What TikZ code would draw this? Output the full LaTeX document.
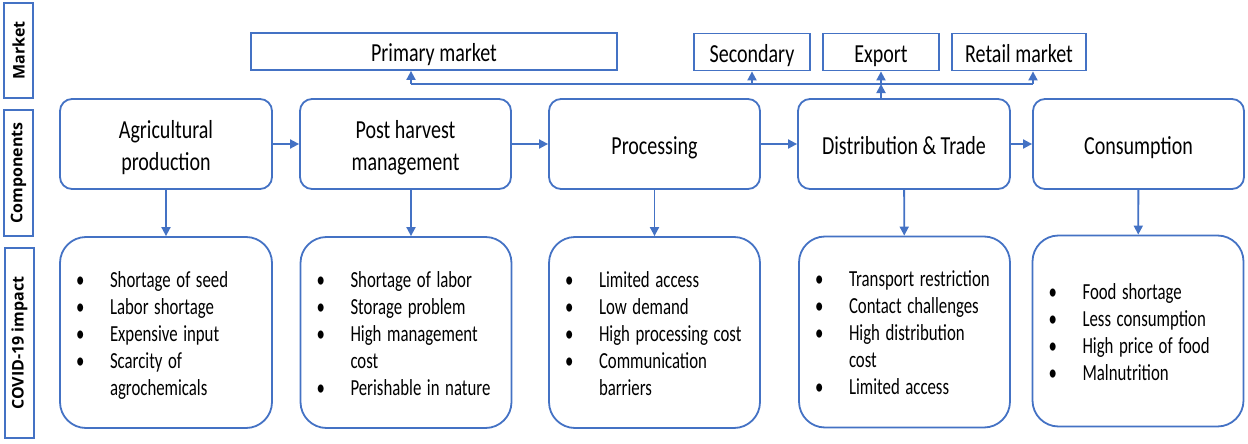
\documentclass[tikz,border=0pt]{standalone}
\usepackage{fontspec}
\setmainfont{Carlito}
\newfontfamily\labfont{Open Sans}
\usetikzlibrary{arrows.meta}
\definecolor{ob}{RGB}{68,114,196}
% horizontally condensed text, as in the reference
\newcommand\ct[1]{\raisebox{-4pt}[\height][\depth]{\scalebox{0.77}[1]{\begin{tabular}{@{}c@{}}#1\end{tabular}}}}
\newcommand\blist[1]{\raisebox{-3.5pt}[\height][\depth]{\scalebox{0.73}[1]{\begin{tabular}{@{}p{46.6pt}@{}l@{}}#1\end{tabular}}}}
\newcommand\bu{\textbullet}
\begin{document}
\begin{tikzpicture}[x=1pt,y=-1pt,
  comp/.style={draw=ob, line width=1.8pt, rounded corners=12pt, minimum width=211pt, minimum height=90pt, inner sep=0pt, font=\fontsize{26}{32}\selectfont},
  impact/.style={draw=ob, line width=1.8pt, rounded corners=26pt, minimum height=191pt, inner xsep=16pt, inner ysep=0pt, text width=179pt, align=left, font=\fontsize{23}{27}\selectfont},
  mkt/.style={draw=ob, line width=1.8pt, minimum height=37pt, inner sep=0pt, font=\fontsize{26}{32}\selectfont},
  lab/.style={draw=ob, line width=2.2pt, rotate=90, inner sep=0pt, minimum height=29pt, font=\labfont\bfseries\fontsize{16}{20}\selectfont},
  conn/.style={ob, line width=1.8pt},
  arr/.style={ob, line width=1.8pt, -{Triangle[length=9pt,width=9pt]}}
]
\useasboundingbox (0,0) rectangle (1248,444);

% left labels
\node[lab, minimum width=95pt] (lm) at (18.5,50.5) {Market};
\node[lab, minimum width=126pt] (lc) at (18.5,173) {Components};
\node[lab, minimum width=190pt] (li) at (19.5,343) {COVID-19 impact};

% market boxes
\node[mkt, minimum width=366pt] (m1) at (434,51.5) {\ct{Primary market}};
\node[mkt, minimum width=116pt] (m2) at (752,52) {\ct{Secondary}};
\node[mkt, minimum width=116pt] (m3) at (881,52) {\ct{Export}};
\node[mkt, minimum width=134pt] (m4) at (1019,52) {\ct{Retail market}};

% components
\node[comp, minimum width=212pt] (c1) at (166,144) {\ct{Agricultural\\production}};
\node[comp] (c2) at (405.5,144) {\ct{Post harvest\\management}};
\node[comp] (c3) at (654.5,144) {\ct{Processing}};
\node[comp, minimum width=212pt] (c4) at (904,144) {\ct{Distribution \& Trade}};
\node[comp] (c5) at (1138.5,144) {\ct{Consumption}};

% impacts
\node[impact, text width=180pt] (i1) at (166,332.5) {\blist{\bu & Shortage of seed\\ \bu & Labor shortage\\ \bu & Expensive input\\ \bu & Scarcity of\\ & agrochemicals}};
\node[impact] (i2) at (406,332.5) {\blist{\bu & Shortage of labor\\ \bu & Storage problem\\ \bu & High management\\ & cost\\ \bu & Perishable in nature}};
\node[impact] (i3) at (654.5,332.5) {\blist{\bu & Limited access\\ \bu & Low demand\\ \bu & High processing cost\\ \bu & Communication\\ & barriers}};
\node[impact] (i4) at (904.5,332) {\blist{\bu & Transport restriction\\ \bu & Contact challenges\\ \bu & High distribution\\ & cost\\ \bu & Limited access}};
\node[impact] (i5) at (1138,331) {\blist{\bu & Food shortage\\ \bu & Less consumption\\ \bu & High price of food\\ \bu & Malnutrition}};

% horizontal flow
\draw[arr] (c1) -- (c2);
\draw[arr] (c2) -- (c3);
\draw[arr] (c3) -- (c4);
\draw[arr] (c4) -- (c5);

% down arrows
\draw[arr] (c1) -- (i1);
\draw[arr] ([xshift=5.5pt]c2.south) -- ([xshift=5.5pt]c2.south |- i2.north);
\draw[arr] (c3) -- (i3);
\draw[arr] (c4) -- (i4);
\draw[arr] (c5) -- (i5);

% market line
\coordinate (l1) at (411,84);
\coordinate (j) at (881,84);
\coordinate (l4) at (1033,84);
\draw[conn] (l1) -- (l4);
\draw[arr] (c4.north -| j) -- (j);
\draw[arr] (l1) -- (l1 |- m1.south);
\draw[arr] (m2.south |- j) -- (m2.south);
\draw[arr] (j) -- (m3.south);
\draw[arr] (l4) -- (l4 |- m4.south);
\end{tikzpicture}
\end{document}
